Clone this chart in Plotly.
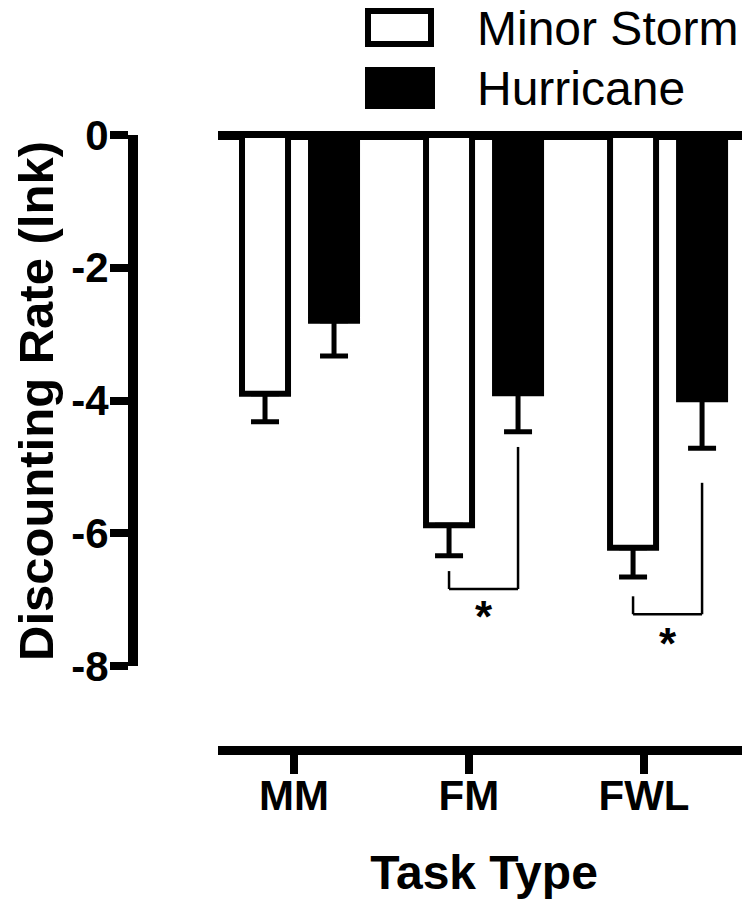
import plotly.graph_objects as go

# ---- data ----
categories = ["MM", "FM", "FWL"]
series_names = ["Minor Storm", "Hurricane"]
minor_storm = [-3.90, -5.88, -6.22]
minor_storm_err = [0.42, 0.46, 0.44]
hurricane = [-2.80, -3.89, -3.98]
hurricane_err = [0.53, 0.58, 0.74]
y_ticks = [0, -2, -4, -6, -8]
y_tick_labels = ["0", "-2", "-4", "-6", "-8"]
x_title = "Task Type"
y_title = "Discounting Rate (lnk)"
# significance brackets: category index, left top, bottom, right top, star y
sig_cats = [1, 2]
sig_left_top = [-6.57, -6.95]
sig_bottom = [-6.84, -7.22]
sig_right_top = [-4.70, -5.24]
sig_star_y = [-7.26, -7.66]

W, H = 750, 904
OFF = 8  # page body margin
FONT = "Liberation Sans, Arial, Helvetica, sans-serif"


def px_x(p):
    return (p - OFF) / W


def px_y(p):
    return 1 - (p - OFF) / H


fig = go.Figure()

fig.add_trace(go.Bar(
    x=categories, y=minor_storm, name=series_names[0],
    marker=dict(color="white", line=dict(color="black", width=6)),
    error_y=dict(type="data", symmetric=False, array=[0] * 3,
                 arrayminus=minor_storm_err, color="black",
                 thickness=5, width=14),
    showlegend=False,
))
fig.add_trace(go.Bar(
    x=categories, y=hurricane, name=series_names[1],
    marker=dict(color="black", line=dict(color="black", width=6)),
    error_y=dict(type="data", symmetric=False, array=[0] * 3,
                 arrayminus=hurricane_err, color="black",
                 thickness=5, width=14),
    showlegend=False,
))
# carrier trace for the category tick axis at the bottom
fig.add_trace(go.Scatter(
    x=categories, y=[None] * 3, xaxis="x2", yaxis="y",
    showlegend=False, hoverinfo="skip", mode="markers",
))

half = 0.1875  # bar-centre offset within a group
for i, c in enumerate(sig_cats):
    xl, xr = c - half, c + half
    for (x0, y0, x1, y1) in [
        (xl, sig_left_top[i], xl, sig_bottom[i]),
        (xl, sig_bottom[i], xr, sig_bottom[i]),
        (xr, sig_bottom[i], xr, sig_right_top[i]),
    ]:
        fig.add_shape(type="line", xref="x", yref="y", x0=x0, y0=y0,
                      x1=x1, y1=y1, line=dict(color="black", width=2.5))
    fig.add_annotation(x=c, y=sig_star_y[i], xref="x", yref="y", text="*",
                       showarrow=False,
                       font=dict(family=FONT, size=44, color="black", weight=700))

# custom legend
fig.add_shape(type="rect", xref="paper", yref="paper",
              x0=px_x(368), x1=px_x(431), y0=px_y(44), y1=px_y(11),
              fillcolor="white", line=dict(color="black", width=6))
fig.add_shape(type="rect", xref="paper", yref="paper",
              x0=px_x(368), x1=px_x(432), y0=px_y(106), y1=px_y(70),
              fillcolor="black", line=dict(color="black", width=6))
fig.add_annotation(x=px_x(475), y=px_y(28), xref="paper", yref="paper",
                   text=series_names[0], showarrow=False, xanchor="left",
                   yanchor="middle", font=dict(family=FONT, size=48, color="black"))
fig.add_annotation(x=px_x(475), y=px_y(89), xref="paper", yref="paper",
                   text=series_names[1], showarrow=False, xanchor="left",
                   yanchor="middle", font=dict(family=FONT, size=48, color="black"))

# y-axis title (rotated text hugging the left edge, like the reference)
fig.add_annotation(x=0, y=px_y(401), xref="paper", yref="paper",
                   text=y_title, textangle=-90, showarrow=False,
                   xanchor="left", yanchor="middle", borderpad=0,
                   font=dict(family=FONT, size=49, color="black", weight=700))

fig.update_layout(
    width=W, height=H,
    margin=dict(l=0, r=0, t=0, b=0),
    paper_bgcolor="white", plot_bgcolor="white",
    barmode="group", bargap=0.25, bargroupgap=1 / 3,
    font=dict(family=FONT, color="black"),
    xaxis=dict(
        domain=[px_x(218), px_x(750)], range=[-0.443, 2.448], visible=False,
        categoryorder="array", categoryarray=categories,
    ),
    xaxis2=dict(
        overlaying="x", anchor="free", position=px_y(750),
        range=[-0.434, 2.606], categoryorder="array", categoryarray=categories,
        showline=True, linecolor="black", linewidth=9,
        ticks="outside", ticklen=19, tickwidth=8, tickcolor="black",
        ticklabelstandoff=-14,
        tickfont=dict(family=FONT, size=42, color="black", weight=700),
        showgrid=False, zeroline=False,
        title=dict(text=x_title, standoff=36,
                   font=dict(family=FONT, size=48, color="black", weight=700)),
        automargin=False,
    ),
    yaxis=dict(
        domain=[px_y(666), px_y(135)], range=[-8, 0],
        anchor="free", position=px_x(133),
        tickvals=y_ticks, ticktext=y_tick_labels,
        showline=True, linecolor="black", linewidth=10,
        ticks="outside", ticklen=18, tickwidth=8, tickcolor="black",
        ticklabelstandoff=-7,
        tickfont=dict(family=FONT, size=42, color="black", weight=700),
        showgrid=False,
        zeroline=True, zerolinecolor="black", zerolinewidth=9,
        automargin=False,
    ),
)

fig.write_html("out.html")
